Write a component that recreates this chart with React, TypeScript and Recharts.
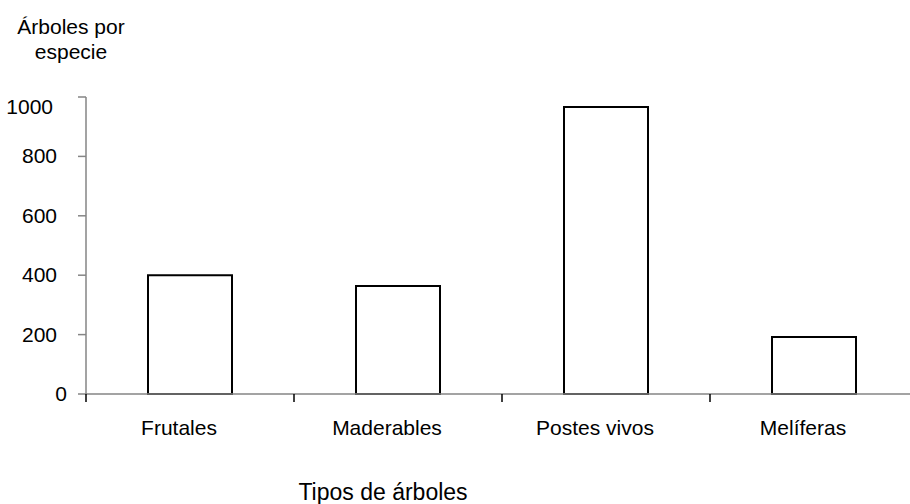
import React from 'react';
import { BarChart, Bar, XAxis, YAxis } from 'recharts';

const categories = ['Frutales', 'Maderables', 'Postes vivos', 'Melíferas'];
const treeCounts = [400, 364, 966, 192];
const yTicks = [0, 200, 400, 600, 800, 1000];

const data = categories.map((name, i) => ({ name, value: treeCounts[i] }));

const CHART_W = 920;
const CHART_H = 504;
const Y_AXIS_W = 86;
const MARGIN = { top: 97, right: 2, left: 0, bottom: 0 };
const BAND = (CHART_W - MARGIN.left - MARGIN.right - Y_AXIS_W) / categories.length;
const FONT = '"Liberation Sans", Arial, sans-serif';
const AXIS_COLOR = '#858585';

const CategoryTick = (props: any) => {
  const { x, y, payload } = props;
  const left = x - BAND / 2;
  return (
    <g>
      <line x1={left} x2={left} y1={y} y2={y + 8} stroke="#000" strokeWidth={1.5} />
      <text x={x - 11} y={y + 41} textAnchor="middle" fontSize={21} fontFamily={FONT} fill="#000">
        {payload.value}
      </text>
    </g>
  );
};

const ValueTick = (props: any) => {
  const { y, payload } = props;
  // the reference draws its first and last label a little off the others
  let tx = 57;
  let ty = y + 7;
  if (payload.value === 0) tx = 67;
  if (payload.value === 1000) {
    tx = 53;
    ty = y + 17;
  }
  return (
    <text x={tx} y={ty} textAnchor="end" fontSize={21} fontFamily={FONT} fill="#000">
      {payload.value}
    </text>
  );
};

export default function App() {
  return (
    <div
      style={{
        position: 'absolute',
        left: 0,
        top: 0,
        width: 910,
        height: 504,
        overflow: 'hidden',
        background: '#fff',
        fontFamily: FONT,
      }}
    >
      <div style={{ position: 'absolute', left: 0, top: 14, width: 142, textAlign: 'center', fontSize: 21, lineHeight: '25px', color: '#000' }}>
        Árboles por
        <br />
        especie
      </div>
      <BarChart width={CHART_W} height={CHART_H} data={data} margin={MARGIN}>
        <YAxis
          width={Y_AXIS_W}
          domain={[0, 1000]}
          ticks={yTicks}
          interval={0}
          axisLine={{ stroke: AXIS_COLOR, strokeWidth: 1.5 }}
          tickLine={{ stroke: AXIS_COLOR, strokeWidth: 1.5 }}
          tickSize={8}
          tick={<ValueTick />}
        />
        <XAxis
          dataKey="name"
          height={110}
          interval={0}
          axisLine={{ stroke: AXIS_COLOR, strokeWidth: 1.5 }}
          tickLine={false}
          tickSize={0}
          tickMargin={0}
          tick={<CategoryTick />}
        />
        <Bar
          dataKey="value"
          fill="#fff"
          stroke="#000"
          strokeWidth={2}
          barSize={84}
          isAnimationActive={false}
        />
      </BarChart>
      <div style={{ position: 'absolute', left: 233, top: 479, width: 300, textAlign: 'center', fontSize: 23, lineHeight: '26px', color: '#000' }}>
        Tipos de árboles
      </div>
    </div>
  );
}
